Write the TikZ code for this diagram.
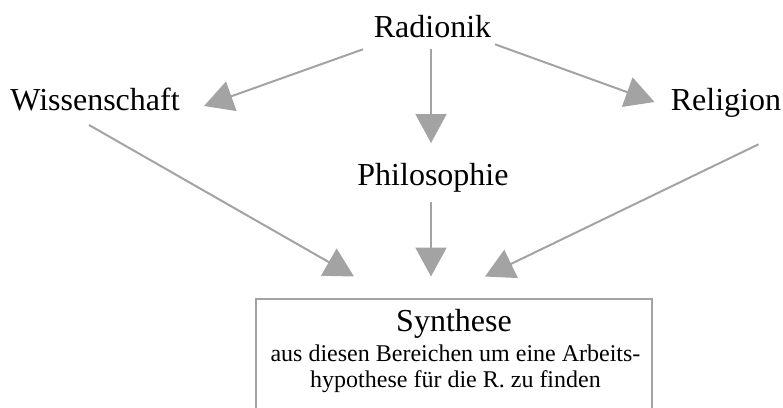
\documentclass[tikz,border=0pt]{standalone}
\usepackage{fontspec}
\setmainfont{Liberation Serif}
\usetikzlibrary{arrows.meta}
\definecolor{lg}{RGB}{163,163,163}
\begin{document}
\begin{tikzpicture}[x=1pt,y=-1pt,
  big/.style={font=\fontsize{32}{38}\selectfont, inner sep=0pt, anchor=base},
  small/.style={font=\fontsize{24}{26}\selectfont, inner sep=0pt, anchor=base},
  conn/.style={draw=lg, line width=2pt, -{Triangle[length=29pt,width=31pt,fill=lg]}}]
\useasboundingbox (0,0) rectangle (783,407);
\begin{scope}
\clip (0,0) rectangle (783,407);
\node[draw=lg, line width=1.5pt, minimum width=396pt, minimum height=140pt, anchor=north, inner sep=0pt] (box) at (454,298) {};
\end{scope}
\node[big] (rad) at (432.5,37) {Radionik};
\node[big] (wis) at (95,110) {Wissenschaft};
\node[big] (rel) at (726,110) {Religion};
\node[big] (phi) at (433,185) {Philosophie};
\node[big] (syn) at (454,331) {Synthese};
\node[small] (l1) at (455.5,361) {aus diesen Bereichen um eine Arbeits-};
\node[small] (l2) at (455.5,387) {hypothese für die R. zu finden};
% connector ends
\coordinate (radW) at (363,49.3);
\coordinate (radP) at (431,49.3);
\coordinate (radR) at (495,44.3);
\coordinate (wisT) at (204,106);
\coordinate (phiT) at (431,143);
\coordinate (relT) at (654.5,102);
\coordinate (wisS) at (89,125);
\coordinate (phiS) at (431,201.7);
\coordinate (relS) at (758.5,144.3);
\coordinate (synW) at (354,276.5);
\coordinate (synP) at (431,276.5);
\coordinate (synR) at (485,276.5);
\draw[conn] (radW) -- (wisT);
\draw[conn] (radP) -- (phiT);
\draw[conn] (radR) -- (relT);
\draw[conn] (wisS) -- (synW);
\draw[conn] (phiS) -- (synP);
\draw[conn] (relS) -- (synR);
\end{tikzpicture}
\end{document}
